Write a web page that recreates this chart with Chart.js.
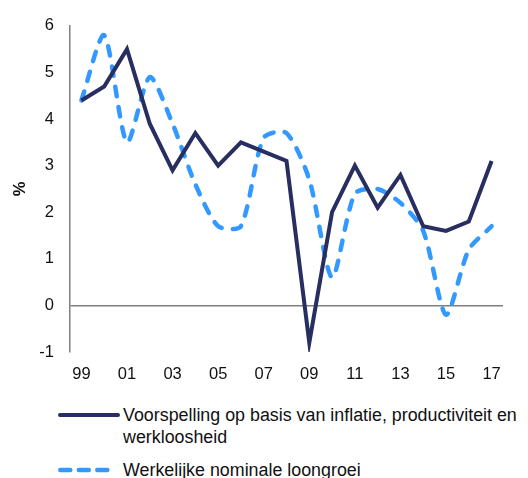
<!DOCTYPE html>
<html>
<head>
<meta charset="utf-8">
<script src="https://cdn.jsdelivr.net/npm/chart.js@4"></script>
<style>
  body { margin: 0; background: #fff; font-family: "Liberation Sans", Arial, sans-serif; }
  #wrap { position: relative; width: 528px; height: 478px; }
  #chartBox { position: absolute; left: 0; top: 0; width: 528px; height: 400px; }
  .legend-item { position: absolute; left: 58px; color: #111; font-size: 17.85px; line-height: 22px; }
  .legend-item svg { position: absolute; left: 0; }
  .legend-item span { position: absolute; left: 65px; top: 0; white-space: nowrap; }
</style>
</head>
<body>
<div id="wrap">
  <div id="chartBox"><canvas id="myChart"></canvas></div>
  <div id="legend"></div>
</div>
<script>
const years = ['99', '00', '01', '02', '03', '04', '05', '06', '07', '08', '09', '10', '11', '12', '13', '14', '15', '16', '17'];
const forecast = [4.4, 4.7, 5.5, 3.9, 2.9, 3.7, 3.0, 3.5, 3.3, 3.1, -0.8, 2.0, 3.0, 2.1, 2.8, 1.7, 1.6, 1.8, 3.1];
const actual = [4.4, 5.8, 3.5, 4.9, 3.9, 2.6, 1.7, 1.7, 3.6, 3.7, 2.7, 0.6, 2.4, 2.5, 2.2, 1.6, -0.2, 1.2, 1.7];
const seriesNames = ['Voorspelling op basis van inflatie, productiviteit en\nwerkloosheid', 'Werkelijke nominale loongroei'];

const navy = '#282f60';
const blue = '#3399ff';
const tickFont = { family: '"Liberation Sans", Arial, sans-serif', size: 16.5 };

const ctx = document.getElementById('myChart').getContext('2d');
const chart = new Chart(ctx, {
  type: 'line',
  data: {
    labels: years,
    datasets: [
      {
        label: seriesNames[0],
        data: forecast,
        borderColor: navy,
        borderWidth: 4,
        borderJoinStyle: 'miter',
        pointRadius: 0,
        tension: 0
      },
      {
        label: seriesNames[1],
        data: actual,
        borderColor: blue,
        borderWidth: 4.5,
        borderDash: [9.5, 11],
        borderCapStyle: 'round',
        borderJoinStyle: 'round',
        pointRadius: 0,
        tension: 0.25
      }
    ]
  },
  options: {
    responsive: true,
    maintainAspectRatio: false,
    animation: false,
    layout: { padding: { top: 25, right: 25, bottom: 8, left: 0 } },
    plugins: { legend: { display: false }, tooltip: { enabled: false } },
    scales: {
      x: {
        offset: true,
        grid: { display: false, drawTicks: false },
        border: { display: false },
        ticks: {
          autoSkip: false,
          maxRotation: 0,
          padding: 13,
          color: '#111',
          font: tickFont,
          callback: function (value, index) {
            return index % 2 === 0 ? this.getLabelForValue(value) : '';
          }
        },
        afterFit: (scale) => { scale.height = 40; }
      },
      y: {
        min: -1,
        max: 6,
        ticks: { stepSize: 1, padding: 16, color: '#111', font: tickFont },
        grid: {
          drawTicks: false,
          lineWidth: 1.5,
          color: (c) => (c.tick && c.tick.value === 0 ? '#7f7f7f' : 'rgba(0,0,0,0)')
        },
        border: { display: true, color: '#7f7f7f', width: 1.5 },
        title: {
          display: true,
          text: '%',
          color: '#111',
          font: { family: '"Liberation Sans", Arial, sans-serif', size: 16.5, weight: 'bold' },
          padding: { top: 11, bottom: 0 }
        },
        afterFit: (scale) => { scale.width = 70; }
      }
    }
  }
});

// HTML legend built from the dataset styles
const legend = document.getElementById('legend');
const legendTops = [404, 459];
chart.data.datasets.forEach((ds, i) => {
  const item = document.createElement('div');
  item.className = 'legend-item';
  item.style.top = legendTops[i] + 'px';
  const dash = ds.borderDash ? 'stroke-dasharray="10 8.5"' : '';
  const x1 = ds.borderDash ? 2.3 : 2;
  const x2 = ds.borderDash ? 52 : 60;
  item.innerHTML =
    `<svg width="62" height="10" style="top:6px"><line x1="${x1}" y1="5" x2="${x2}" y2="5" stroke="${ds.borderColor}" stroke-width="${ds.borderWidth}" stroke-linecap="round" ${dash}/></svg>` +
    `<span>${ds.label.replace('\n', '<br>')}</span>`;
  legend.appendChild(item);
});
</script>
</body>
</html>
